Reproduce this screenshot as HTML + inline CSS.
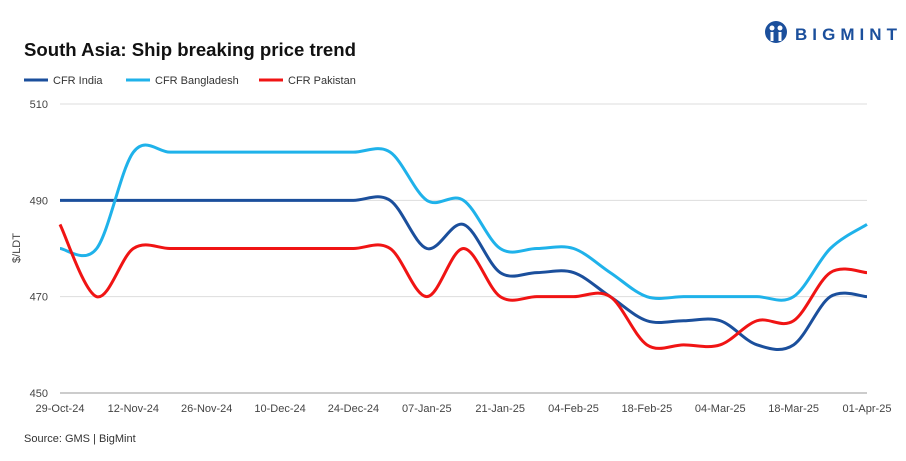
<!DOCTYPE html>
<html><head><meta charset="utf-8"><style>
body{margin:0;background:#fff;width:906px;height:456px;overflow:hidden;font-family:"Liberation Sans",sans-serif}
</style></head><body>
<svg id="c" width="906" height="456" xmlns="http://www.w3.org/2000/svg">
<g>
<circle cx="776" cy="32" r="11" fill="#1b4f9c"/>
<circle cx="772" cy="28" r="2.5" fill="#fff"/><circle cx="780" cy="28" r="2.5" fill="#fff"/>
<rect x="770.5" y="32" width="3" height="9" fill="#fff"/><rect x="778.5" y="32" width="3" height="9" fill="#fff"/>
<text x="795" y="40" font-size="17" font-weight="bold" fill="#1b4f9c" textLength="102" lengthAdjust="spacing">BIGMINT</text>
</g>
<text x="24" y="56" font-size="18" font-weight="bold" fill="#111" textLength="332" lengthAdjust="spacingAndGlyphs">South Asia: Ship breaking  price trend</text>
<g id="legend" font-size="11" fill="#333"></g>
<g id="grid"></g><g id="series"></g><g id="axes" font-size="11" fill="#444"></g>
<text x="20" y="248" font-size="11" fill="#444" transform="rotate(-90 20 248)" text-anchor="middle">$/LDT</text>
<text x="24" y="442" font-size="11" fill="#333">Source: GMS | BigMint</text>
</svg>
<script>
const xLabels=["29-Oct-24","12-Nov-24","26-Nov-24","10-Dec-24","24-Dec-24","07-Jan-25","21-Jan-25","04-Feb-25","18-Feb-25","04-Mar-25","18-Mar-25","01-Apr-25"];
const yTicks=[450,470,490,510];
const seriesNames=["CFR India","CFR Bangladesh","CFR Pakistan"];
const seriesColors=["#1b4f9c","#1fb2ea","#f01414"];
const india=[490,490,490,490,490,490,490,490,490,490,480,485,475,475,475,470,465,465,465,460,460,470,470];
const bangladesh=[480,480,500,500,500,500,500,500,500,500,490,490,480,480,480,475,470,470,470,470,470,480,485];
const pakistan=[485,470,480,480,480,480,480,480,480,480,470,480,470,470,470,470,460,460,460,465,465,475,475];
const allSeries=[india,bangladesh,pakistan];
const NS="http://www.w3.org/2000/svg";
const x0=60,x1=867,yTop=104,yBot=393;
const xs=i=>x0+(x1-x0)*i/(india.length-1);
const ys=v=>yBot-(v-450)/(510-450)*(yBot-yTop);
function mk(t,a,p){const e=document.createElementNS(NS,t);for(const k in a)e.setAttribute(k,a[k]);p.appendChild(e);return e;}
const grid=document.getElementById('grid'),axes=document.getElementById('axes'),ser=document.getElementById('series'),leg=document.getElementById('legend');
yTicks.forEach(v=>{
 const l=mk('line',{x1:x0,x2:x1,y1:ys(v),y2:ys(v),stroke:v===450?'#999':'#ddd','stroke-width':1},grid);
 
 
 const t=mk('text',{x:x0-12,y:ys(v)+4,'text-anchor':'end'},axes);t.textContent=v;
 
 
});
xLabels.forEach((s,k)=>{
 const t=mk('text',{x:xs(k*2),y:412,'text-anchor':'middle'},axes);t.textContent=s;
 
 
});
allSeries.forEach((d,si)=>{
 const P=d.map((v,i)=>[xs(i),ys(v)]);
 let path='M'+P[0][0]+','+P[0][1];
 for(let i=0;i<P.length-1;i++){
  const p0=P[Math.max(i-1,0)],p1=P[i],p2=P[i+1],p3=P[Math.min(i+2,P.length-1)];
  const c1=[p1[0]+(p2[0]-p0[0])/6,p1[1]+(p2[1]-p0[1])/6];
  const c2=[p2[0]-(p3[0]-p1[0])/6,p2[1]-(p3[1]-p1[1])/6];
  path+=` C${c1[0]},${c1[1]} ${c2[0]},${c2[1]} ${p2[0]},${p2[1]}`;
 }
 const e=mk('path',{d:path,fill:'none',stroke:seriesColors[si],'stroke-width':3,'stroke-linejoin':'round'},ser);
 
 
});
const lx=[24,126,259];
seriesNames.forEach((n,i)=>{
 const g=mk('g',{},leg);
 
 
 mk('line',{x1:lx[i],x2:lx[i]+24,y1:80,y2:80,stroke:seriesColors[i],'stroke-width':3},g);
 const t=mk('text',{x:lx[i]+29,y:84},g);t.textContent=n;
});
</script>
</body></html>
